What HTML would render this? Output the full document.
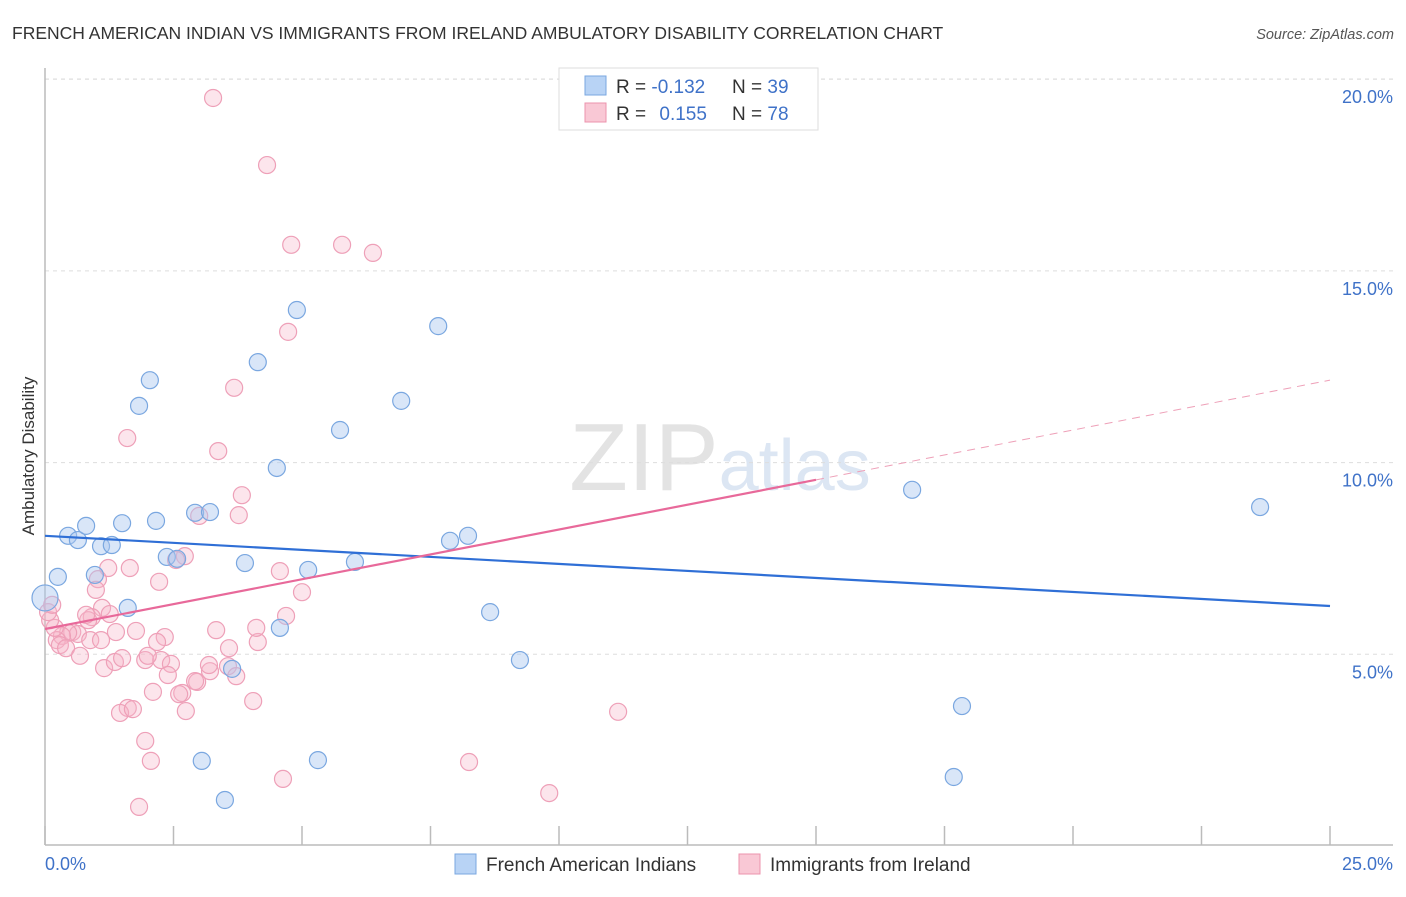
<!DOCTYPE html>
<html><head><meta charset="utf-8"><style>
body{margin:0;background:#fff;font-family:"Liberation Sans",sans-serif;}
svg text{font-family:"Liberation Sans",sans-serif;}
</style></head><body>
<svg id="chart" width="1406" height="892" xmlns="http://www.w3.org/2000/svg">
<text x="12" y="39" font-size="17.5" fill="#333">FRENCH AMERICAN INDIAN VS IMMIGRANTS FROM IRELAND AMBULATORY DISABILITY CORRELATION CHART</text>
<text x="1394" y="39" font-size="14.5" fill="#555" font-style="italic" text-anchor="end">Source: ZipAtlas.com</text>
<text x="720" y="490" font-size="96" fill="#e3e3e3" text-anchor="middle" font-family="Liberation Serif">ZIP<tspan fill="#dce6f3" font-family="Liberation Sans" font-size="72">atlas</tspan></text>
<g id="grid"></g>
<g id="axes"></g>
<g id="marks"></g>
<text transform="translate(34,456) rotate(-90)" font-size="17" fill="#333" text-anchor="middle">Ambulatory Disability</text>
<g>
<rect x="559" y="68" width="259" height="62" fill="#fff" stroke="#ddd"/>
<rect x="585" y="76" width="21" height="19" fill="#b8d3f5" stroke="#7aa7e0"/>
<rect x="585" y="103" width="21" height="19" fill="#f9c8d5" stroke="#ec93ad"/>
<text x="616" y="93" font-size="19" fill="#333">R = <tspan fill="#3f72c8">-0.132</tspan></text>
<text x="732" y="93" font-size="19" fill="#333">N = <tspan fill="#3f72c8">39</tspan></text>
<text x="616" y="120" font-size="19" fill="#333">R = <tspan fill="#3f72c8" dx="8">0.155</tspan></text>
<text x="732" y="120" font-size="19" fill="#333">N = <tspan fill="#3f72c8">78</tspan></text>
</g>
<g>
<rect x="455" y="854" width="21" height="20" fill="#b8d3f5" stroke="#7aa7e0"/>
<text x="486" y="871" font-size="19" fill="#333">French American Indians</text>
<rect x="739" y="854" width="21" height="20" fill="#f9c8d5" stroke="#ec93ad"/>
<text x="770" y="871" font-size="19" fill="#333">Immigrants from Ireland</text>
</g>
</svg>
<script>
const yTicks=[5,10,15,20];
const yTickLabels=["5.0%","10.0%","15.0%","20.0%"];
const xTickVals=[0,2.5,5,7.5,10,12.5,15,17.5,20,22.5,25];
const xEndLabels=["0.0%","25.0%"];
const blueX=[0,0.25,0.45,0.64,0.80,1.09,1.30,0.97,1.50,1.61,1.83,2.04,2.16,2.37,2.57,2.92,3.21,3.05,3.50,3.89,3.64,4.14,4.51,4.57,4.90,5.12,5.31,5.74,6.03,6.93,7.65,7.88,8.23,8.66,9.24,16.87,17.84,17.68,23.64];
const blueY=[6.47,7.02,8.09,7.98,8.35,7.82,7.85,7.07,8.42,6.21,11.48,12.15,8.48,7.54,7.49,8.69,8.71,2.22,1.20,7.38,4.62,12.62,9.86,5.69,13.98,7.20,2.24,10.85,7.41,11.61,13.56,7.96,8.09,6.10,4.85,9.29,3.65,1.80,8.84];
const pinkX=[3.27,4.32,4.79,5.78,6.38,4.73,3.68,1.60,3.37,3.83,3.77,3.00,2.72,2.55,1.65,1.23,2.22,1.03,0.99,1.11,1.26,0.91,0.84,0.80,0.53,0.64,0.45,0.33,0.23,0.19,0.10,0.06,0.14,0.29,0.41,0.88,0.68,1.38,1.77,2.33,2.18,1.15,1.36,1.50,1.95,2.26,2.45,2.00,2.39,2.96,3.21,3.19,3.33,3.58,3.56,3.72,4.14,4.11,4.69,4.57,5.00,2.10,2.67,2.61,2.92,2.74,4.05,1.61,1.46,1.71,1.95,2.06,1.83,4.63,8.25,9.81,11.15,1.09];
const pinkY=[19.51,17.76,15.68,15.68,15.47,13.41,11.95,10.64,10.30,9.15,8.63,8.61,7.56,7.46,7.25,7.25,6.89,6.96,6.68,6.21,6.05,5.97,5.89,6.03,5.58,5.53,5.56,5.48,5.37,5.69,5.89,6.10,6.29,5.24,5.16,5.37,4.96,5.58,5.61,5.45,5.32,4.64,4.80,4.90,4.85,4.85,4.75,4.96,4.46,4.28,4.56,4.72,5.63,5.16,4.69,4.43,5.32,5.69,6.00,7.17,6.62,4.02,3.99,3.96,4.30,3.52,3.78,3.60,3.47,3.57,2.74,2.22,1.02,1.75,2.19,1.38,3.50,5.37];
const blueTrend=[[0,8.09],[25,6.26]];
const pinkTrend=[[0,5.66],[15,9.55]];
const pinkTrendExt=[[15,9.55],[25,12.15]];
const NS="http://www.w3.org/2000/svg";
const X=v=>45+v*51.4, Y=v=>846-v*38.34;
function mk(tag,attrs,parent){const e=document.createElementNS(NS,tag);for(const k in attrs)e.setAttribute(k,attrs[k]);document.getElementById(parent).appendChild(e);return e;}
yTicks.forEach((t,i)=>{
 const l=mk('line',{x1:45,x2:1393,y1:Y(t),y2:Y(t),stroke:'#ddd','stroke-dasharray':'4,4'},'grid');
 
 
 const tx=mk('text',{x:1393,y:Y(t)+24,'font-size':18,fill:'#3f72c8','text-anchor':'end'},'axes');
 tx.textContent=yTickLabels[i];
 
 
});
const tg=mk('line',{x1:45,x2:1393,y1:79,y2:79,stroke:'#ddd','stroke-dasharray':'4,4'},'grid');


const ya=mk('line',{x1:45,x2:45,y1:68,y2:845,stroke:'#bbb','stroke-width':1.5},'axes');


const xa=mk('line',{x1:45,x2:1393,y1:845,y2:845,stroke:'#bbb','stroke-width':1.5},'axes');


xTickVals.forEach(v=>{
 const t=mk('line',{x1:X(v),x2:X(v),y1:826,y2:845,stroke:'#bbb','stroke-width':1.5},'axes');
 
 
});
const xl0=mk('text',{x:45,y:870,'font-size':18,fill:'#3f72c8'},'axes');xl0.textContent=xEndLabels[0];


const xl1=mk('text',{x:1393,y:870,'font-size':18,fill:'#3f72c8','text-anchor':'end'},'axes');xl1.textContent=xEndLabels[1];


pinkX.forEach((v,i)=>{
 const c=mk('circle',{cx:X(v),cy:Y(pinkY[i]),r:8.5,fill:'rgba(246,180,200,0.35)',stroke:'#eea0b8','stroke-width':1.2},'marks');
 
 
});
blueX.forEach((v,i)=>{
 const c=mk('circle',{cx:X(v),cy:Y(blueY[i]),r:i===0?13:8.5,fill:'rgba(170,200,240,0.45)',stroke:'#7aa7e0','stroke-width':1.2},'marks');
 
 
});
const bt=mk('line',{x1:X(blueTrend[0][0]),y1:Y(blueTrend[0][1]),x2:X(blueTrend[1][0]),y2:Y(blueTrend[1][1]),stroke:'#2f6fd6','stroke-width':2.2},'marks');


const pt=mk('line',{x1:X(pinkTrend[0][0]),y1:Y(pinkTrend[0][1]),x2:X(pinkTrend[1][0]),y2:Y(pinkTrend[1][1]),stroke:'#e8699a','stroke-width':2.2},'marks');


const pe=mk('line',{x1:X(pinkTrendExt[0][0]),y1:Y(pinkTrendExt[0][1]),x2:X(pinkTrendExt[1][0]),y2:Y(pinkTrendExt[1][1]),stroke:'#eea0b8','stroke-width':1,'stroke-dasharray':'8,6'},'marks');


</script>
</body></html>
